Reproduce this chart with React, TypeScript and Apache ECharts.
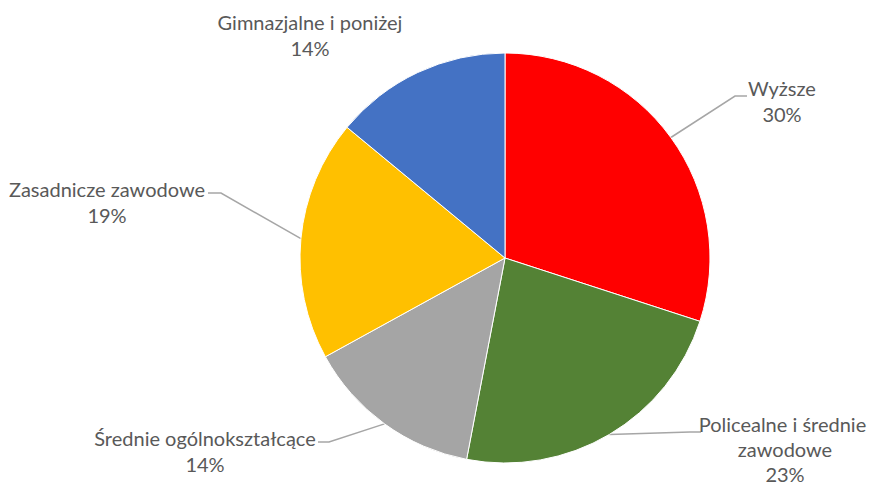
import React, { useEffect, useRef } from "react";
import * as echarts from "echarts";

const categories = [
  "Wyższe",
  "Policealne i średnie zawodowe",
  "Średnie ogólnokształcące",
  "Zasadnicze zawodowe",
  "Gimnazjalne i poniżej",
];
const values = [30, 23, 14, 19, 14];
const colors = ["#FF0000", "#548235", "#A5A5A5", "#FFC000", "#4472C4"];

// label anchor (center) and leader elbow/end points, per slice
const labelAnchors = [
  { x: 782, y: 101, elbow: [735, 96], end: [747, 96] },
  { x: 785, y: 449, elbow: [690, 432], end: [701, 432] },
  { x: 205, y: 451, elbow: [329, 442], end: [318, 442] },
  { x: 107, y: 202, elbow: [221, 193], end: [208, 193] },
  { x: 310, y: 35, elbow: null, end: null },
];

export default function App() {
  const ref = useRef<HTMLDivElement>(null);
  useEffect(() => {
    document.body.style.margin = "0";
    const chart = echarts.init(ref.current!, null, { renderer: "svg" });
    chart.setOption({
      animation: false,
      backgroundColor: "#ffffff",
      series: [
        {
          type: "pie",
          center: [505, 258],
          radius: 205,
          startAngle: 90,
          clockwise: true,
          itemStyle: { borderColor: "#ffffff", borderWidth: 1 },
          label: {
            show: true,
            position: "outside",
            formatter: (p: any) => `${p.name}\n${p.value}%`,
            fontFamily: "Lato",
            fontSize: 20,
            lineHeight: 26,
            color: "#595959",
            align: "center",
          },
          labelLine: {
            show: true,
            lineStyle: { color: "#A6A6A6", width: 1.5 },
          },
          labelLayout: (params: any) => {
            const a = labelAnchors[params.dataIndex];
            const res: any = { x: a.x, y: a.y, align: "center", verticalAlign: "middle" };
            if (a.elbow && params.labelLinePoints) {
              res.labelLinePoints = [params.labelLinePoints[0], a.elbow, a.end];
            }
            return res;
          },
          data: categories.map((name, i) => ({
            name,
            value: values[i],
            itemStyle: { color: colors[i] },
            label: i === 1 ? { width: 200, overflow: "break", lineHeight: 25 } : undefined,
            labelLine: i === 4 ? { show: false } : undefined,
          })),
        },
      ],
    });
    return () => chart.dispose();
  }, []);
  return <div ref={ref} style={{ width: 873, height: 486 }} />;
}
